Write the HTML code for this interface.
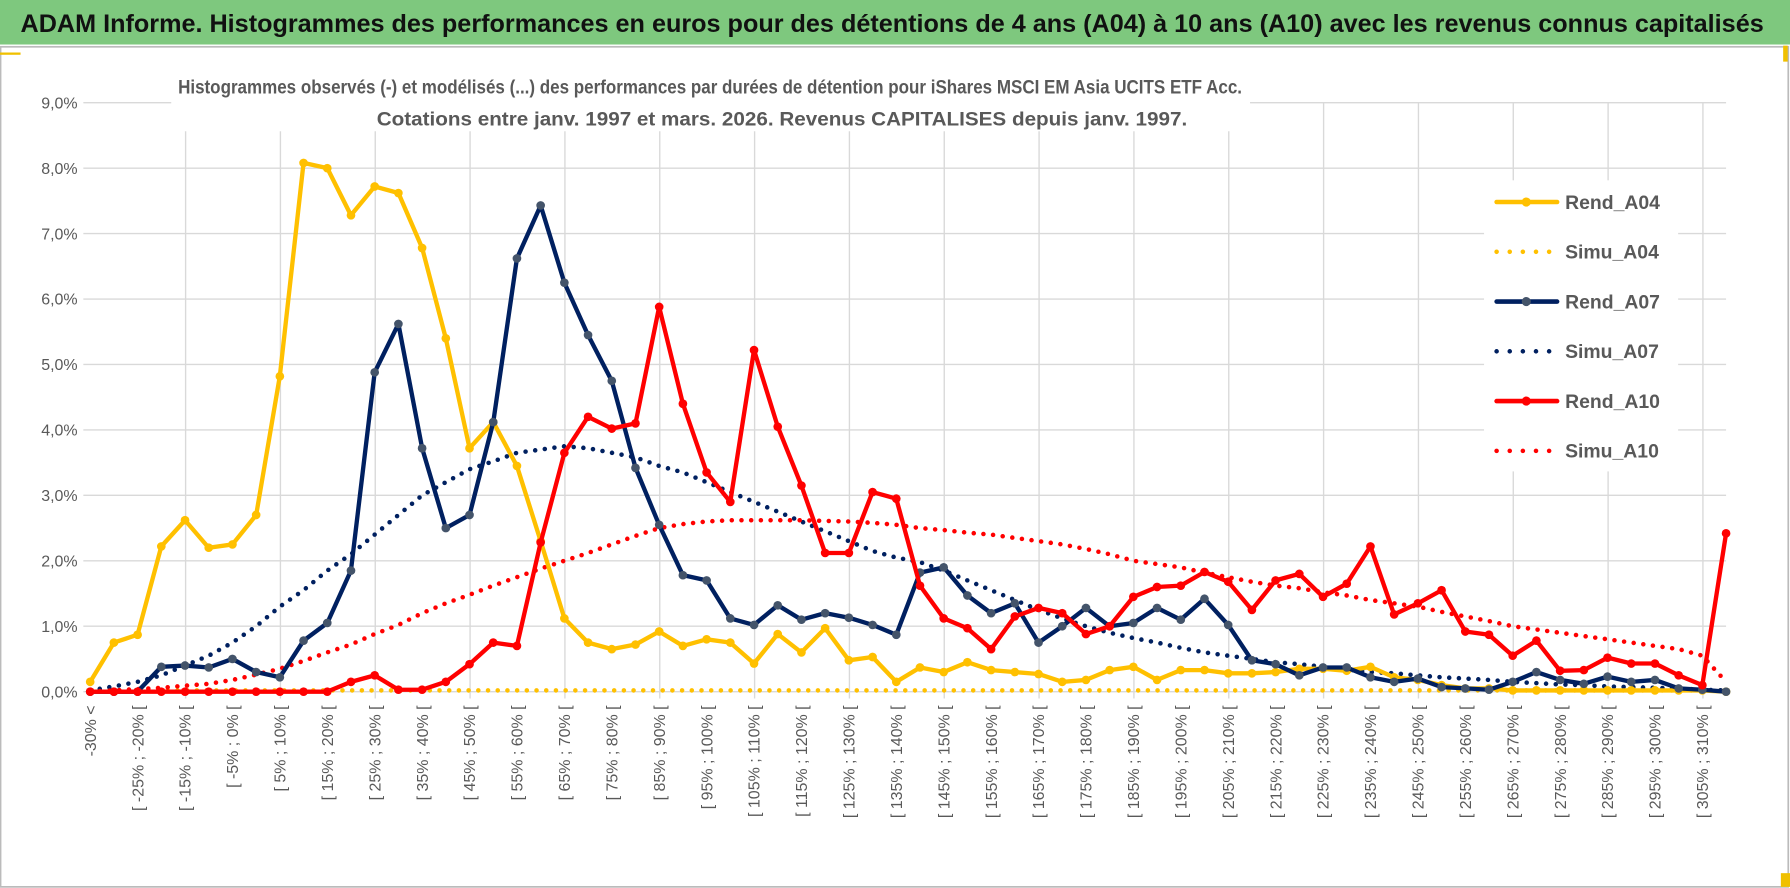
<!DOCTYPE html>
<html><head><meta charset="utf-8"><style>
html,body{margin:0;padding:0;background:#fff;}
svg{display:block;}
text{font-family:"Liberation Sans",sans-serif;}
</style></head><body>
<svg id="chart" width="1790" height="888" viewBox="0 0 1568 778" preserveAspectRatio="none" xmlns="http://www.w3.org/2000/svg">
<rect x="0" y="0" width="1568" height="778" fill="#fff"/>
<rect x="0" y="0" width="1568" height="39" fill="#7ec87e"/>
<text x="18" y="28" font-size="22" font-weight="bold" fill="#111" textLength="1527" lengthAdjust="spacingAndGlyphs">ADAM Informe. Histogrammes des performances en euros pour des détentions de 4 ans (A04) à 10 ans (A10) avec les revenus connus capitalisés</text>
<rect x="0.5" y="41" width="1566" height="736" fill="none" stroke="#bbb" stroke-width="1.5"/>
<rect x="0" y="46" width="18" height="2" fill="#f0c000"/>
<rect x="1562" y="40" width="4" height="14" fill="#f0c000"/>
<rect x="1560" y="765" width="8" height="12" fill="#f0c000"/>
<g id="grid"></g>
<g id="yaxis"></g>
<g id="xaxis"></g>
<g id="series"></g>
<rect x="150" y="60" width="945" height="55" fill="#fff"/>
<text x="156" y="82" font-size="17" font-weight="bold" fill="#595959" textLength="932" lengthAdjust="spacingAndGlyphs">Histogrammes observés (-) et modélisés (...) des performances par durées de détention pour iShares MSCI EM Asia UCITS ETF Acc.</text>
<text x="330" y="110" font-size="17" font-weight="bold" fill="#595959" textLength="710" lengthAdjust="spacingAndGlyphs">Cotations entre janv. 1997 et mars. 2026. Revenus CAPITALISES depuis janv. 1997.</text>
<g id="legend"></g>
</svg>
<script>
const categories = (function(){ const c=["-30% <"]; for(let v=-30; v<310; v+=5){ c.push("[ "+v+"% ; "+(v+5)+"% ["); } c.push("> 310%"); return c; })();
const yTicks = [0,1,2,3,4,5,6,7,8,9];
const yTickLabels = ["0,0%","1,0%","2,0%","3,0%","4,0%","5,0%","6,0%","7,0%","8,0%","9,0%"];
const rendA04 = [0.15,0.75,0.87,2.22,2.62,2.2,2.25,2.7,4.82,8.08,8.0,7.28,7.72,7.62,6.78,5.4,3.72,4.12,3.45,2.3,1.12,0.75,0.65,0.72,0.92,0.7,0.8,0.75,0.43,0.88,0.6,0.97,0.48,0.53,0.15,0.37,0.3,0.45,0.33,0.3,0.27,0.15,0.18,0.33,0.38,0.18,0.33,0.33,0.28,0.28,0.3,0.35,0.35,0.32,0.38,0.22,0.18,0.1,0.05,0.05,0.02,0.02,0.02,0.02,0.02,0.02,0.02,0.02,0.02,0.0];
const simuA04 = [0.02,0.02,0.02,0.02,0.02,0.02,0.02,0.02,0.02,0.02,0.02,0.02,0.02,0.02,0.02,0.02,0.02,0.02,0.02,0.02,0.02,0.02,0.02,0.02,0.02,0.02,0.02,0.02,0.02,0.02,0.02,0.02,0.02,0.02,0.02,0.02,0.02,0.02,0.02,0.02,0.02,0.02,0.02,0.02,0.02,0.02,0.02,0.02,0.02,0.02,0.02,0.02,0.02,0.02,0.02,0.02,0.02,0.02,0.02,0.02,0.02,0.02,0.02,0.02,0.02,0.02,0.02,0.02,0.02,0.02];
const rendA07 = [0,0,0,0.38,0.4,0.37,0.5,0.3,0.22,0.78,1.05,1.85,4.88,5.62,3.72,2.5,2.7,4.12,6.62,7.43,6.25,5.45,4.75,3.42,2.55,1.78,1.7,1.12,1.02,1.32,1.1,1.2,1.13,1.02,0.87,1.82,1.9,1.47,1.2,1.35,0.75,1.0,1.28,1.0,1.05,1.28,1.1,1.42,1.02,0.48,0.42,0.25,0.37,0.37,0.22,0.15,0.2,0.07,0.05,0.03,0.15,0.3,0.18,0.12,0.23,0.15,0.18,0.05,0.03,0];
const simuA07 = [0.02,0.08,0.15,0.25,0.4,0.55,0.75,1.0,1.3,1.55,1.85,2.1,2.4,2.7,3.0,3.2,3.4,3.52,3.65,3.7,3.75,3.72,3.65,3.58,3.45,3.35,3.2,3.05,2.9,2.75,2.6,2.45,2.3,2.15,2.05,1.98,1.85,1.7,1.55,1.4,1.25,1.12,1.0,0.9,0.82,0.75,0.67,0.6,0.55,0.5,0.45,0.42,0.38,0.34,0.3,0.28,0.25,0.22,0.2,0.18,0.15,0.13,0.11,0.1,0.08,0.07,0.06,0.05,0.03,0.02];
const rendA10 = [0,0,0,0,0,0,0,0,0,0,0,0.15,0.25,0.03,0.03,0.15,0.42,0.75,0.7,2.28,3.65,4.2,4.02,4.1,5.88,4.4,3.35,2.9,5.22,4.05,3.15,2.12,2.12,3.05,2.95,1.62,1.12,0.97,0.65,1.15,1.28,1.2,0.88,1.0,1.45,1.6,1.62,1.83,1.68,1.25,1.7,1.8,1.45,1.65,2.22,1.18,1.35,1.55,0.92,0.87,0.55,0.78,0.32,0.33,0.52,0.43,0.43,0.25,0.1,2.42];
const simuA10 = [0.0,0.02,0.04,0.06,0.09,0.12,0.18,0.26,0.35,0.47,0.6,0.72,0.88,1.02,1.2,1.35,1.48,1.62,1.75,1.88,2.0,2.12,2.25,2.38,2.5,2.56,2.6,2.62,2.62,2.62,2.62,2.61,2.6,2.58,2.55,2.5,2.47,2.43,2.4,2.35,2.3,2.25,2.18,2.1,2.0,1.95,1.9,1.82,1.75,1.68,1.62,1.58,1.52,1.47,1.4,1.35,1.3,1.22,1.15,1.08,1.0,0.95,0.9,0.85,0.8,0.75,0.7,0.65,0.55,0.15];

const NS="http://www.w3.org/2000/svg";
const x0=79, x1=1512, yZero=606, yTop=90;
function xPos(i){ return x0 + i*(x1-x0)/(categories.length-1); }
function yPos(v){ return yZero - v*(yZero-yTop)/9; }
function mk(tag, attrs, parent){ const e=document.createElementNS(NS,tag); for(const k in attrs) e.setAttribute(k,attrs[k]); parent.appendChild(e); return e; }

const grid=document.getElementById('grid');
yTicks.forEach((t,i)=>{
  const l=mk('line',{x1:x0-6,x2:x1,y1:yPos(t),y2:yPos(t),stroke:'#d9d9d9','stroke-width':1.2},grid);
  
  
  const tx=mk('text',{x:68,y:yPos(t)+5,'text-anchor':'end','font-size':14,fill:'#595959'},document.getElementById('yaxis'));
  tx.textContent=yTickLabels[i];
  
  
});
for(let i=4;i<categories.length;i+=4){
  const l=mk('line',{x1:xPos(i)+0.5,x2:xPos(i)+0.5,y1:yTop,y2:yZero+6,stroke:'#d9d9d9','stroke-width':1.2},grid);
  
  
}
const xa=document.getElementById('xaxis');
categories.forEach((c,i)=>{
  if(i%2!==0) return;
  const x=xPos(i)+5;
  const t=mk('text',{x:x,y:618,transform:'rotate(-90 '+x+' 618)','text-anchor':'end','font-size':14,fill:'#595959'},xa);
  t.textContent=c;
  
  
});

const series=[
  {name:'simu-a04',data:simuA04,color:'#ffc000',dotted:true},
  {name:'simu-a07',data:simuA07,color:'#002060',dotted:true},
  {name:'simu-a10',data:simuA10,color:'#ff0000',dotted:true},
  {name:'rend-a04',data:rendA04,color:'#ffc000',marker:'#ffc000'},
  {name:'rend-a07',data:rendA07,color:'#002060',marker:'#44546a'},
  {name:'rend-a10',data:rendA10,color:'#ff0000',marker:'#ff0000'}
];
const sg=document.getElementById('series');
series.forEach(s=>{
  const pts=s.data.map((v,i)=>xPos(i).toFixed(1)+','+yPos(v).toFixed(1)).join(' ');
  const p=mk('polyline',{points:pts,fill:'none',stroke:s.color,'stroke-width':s.dotted?4:3.8,'stroke-linejoin':'round','stroke-linecap':'round'},sg);
  if(s.dotted){p.setAttribute('stroke-dasharray','0 8.5');}
  
  
  if(s.marker){
    s.data.forEach((v,i)=>{
      const c=mk('circle',{cx:xPos(i),cy:yPos(v),r:3.8,fill:s.marker},sg);
      
      
    });
  }
});

const lg=document.getElementById('legend');
mk('rect',{x:1300,y:158,width:170,height:255,fill:'#fff'},lg);
const legendItems=[
  {label:'Rend_A04',color:'#ffc000',marker:'#ffc000'},
  {label:'Simu_A04',color:'#ffc000',dotted:true},
  {label:'Rend_A07',color:'#002060',marker:'#44546a'},
  {label:'Simu_A07',color:'#002060',dotted:true},
  {label:'Rend_A10',color:'#ff0000',marker:'#ff0000'},
  {label:'Simu_A10',color:'#ff0000',dotted:true}
];
legendItems.forEach((it,i)=>{
  const y=177+i*43.6;
  const g=mk('g',{},lg);
  
  
  const l=mk('line',{x1:1311,x2:1364,y1:y,y2:y,stroke:it.color,'stroke-width':4,'stroke-linecap':'round'},g);
  if(it.dotted) l.setAttribute('stroke-dasharray','0 11.5');
  if(it.marker) mk('circle',{cx:1337,cy:y,r:4,fill:it.marker},g);
  const t=mk('text',{x:1371,y:y+6,'font-size':17,'font-weight':'bold',fill:'#595959'},g);
  t.textContent=it.label;
});
</script>
</body></html>
